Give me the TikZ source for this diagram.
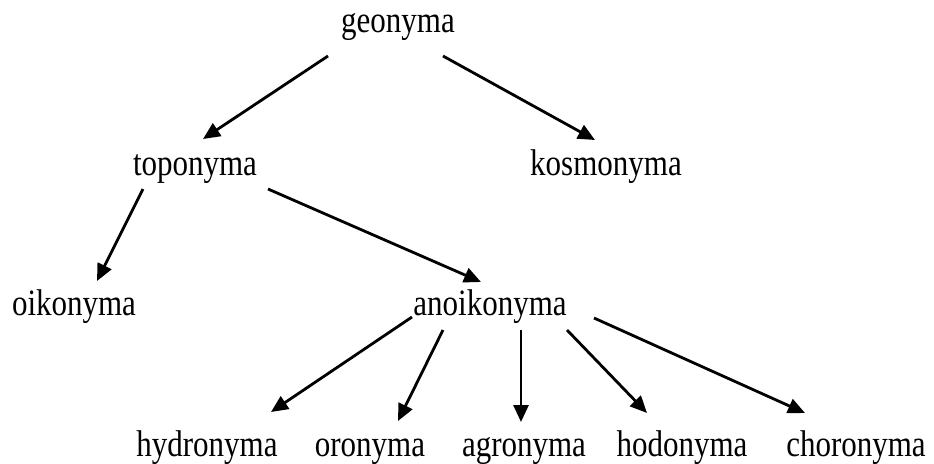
\documentclass[tikz,border=0pt]{standalone}
\usepackage{graphicx}
\usepackage{fontspec}
\setmainfont{Liberation Serif}
\usetikzlibrary{arrows.meta}
\newcommand{\tallt}[1]{\scalebox{1}[1.2]{#1}}
\begin{document}
\begin{tikzpicture}[x=1pt,y=-1pt,
  lbl/.style={anchor=base,inner sep=0pt,font=\fontsize{31}{36}\selectfont},
  arr/.style={line width=2.8pt,-{Triangle[length=17pt,width=15pt]}}]
\useasboundingbox (0,0) rectangle (934,463);
\node[lbl] (geo) at (398,32.5) {\tallt{geonyma}};
\node[lbl] (top) at (195,175) {\tallt{toponyma}};
\node[lbl] (kos) at (606,175) {\tallt{kosmonyma}};
\node[lbl] (oik) at (74,315) {\tallt{oikonyma}};
\node[lbl] (ano) at (490,315) {\tallt{anoikonyma}};
\node[lbl] (hyd) at (207,456) {\tallt{hydronyma}};
\node[lbl] (oro) at (370,456) {\tallt{oronyma}};
\node[lbl] (agr) at (524,456) {\tallt{agronyma}};
\node[lbl] (hod) at (682,456) {\tallt{hodonyma}};
\node[lbl] (cho) at (856,456) {\tallt{choronyma}};
% connector end points
\coordinate (geoL) at (328,56);   \coordinate (topT) at (203,139);
\coordinate (geoR) at (443,56);   \coordinate (kosT) at (595,140);
\coordinate (topL) at (143,189);  \coordinate (oikT) at (97,281);
\coordinate (topR) at (268,189);  \coordinate (anoT) at (481,282);
\coordinate (anoA) at (412,317);  \coordinate (hydT) at (271,412);
\coordinate (anoB) at (443,330);  \coordinate (oroT) at (398,421);
\coordinate (anoC) at (521,330);  \coordinate (agrT) at (521,422);
\coordinate (anoD) at (567,330);  \coordinate (hodT) at (647,413);
\coordinate (anoE) at (594,318);  \coordinate (choT) at (805,413);
\draw[arr] (geoL) -- (topT);
\draw[arr] (geoR) -- (kosT);
\draw[arr] (topL) -- (oikT);
\draw[arr] (topR) -- (anoT);
\draw[arr] (anoA) -- (hydT);
\draw[arr] (anoB) -- (oroT);
\draw[arr] (anoC) -- (agrT);
\draw[arr] (anoD) -- (hodT);
\draw[arr] (anoE) -- (choT);
\end{tikzpicture}
\end{document}
